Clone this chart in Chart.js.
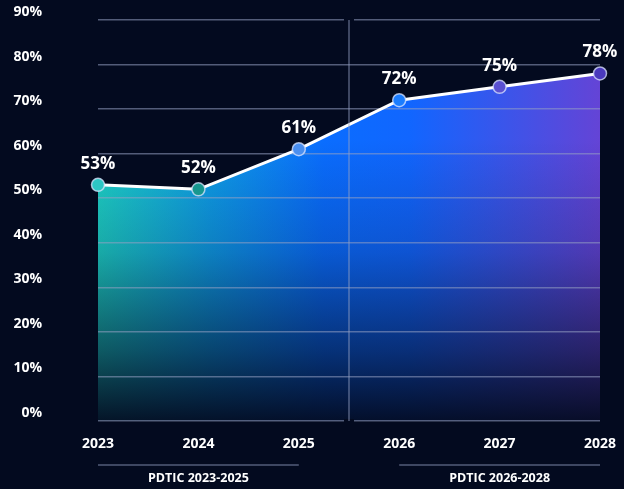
<!DOCTYPE html>
<html>
<head>
<meta charset="utf-8">
<script src="https://cdn.jsdelivr.net/npm/chart.js@4/dist/chart.umd.min.js"></script>
<style>
  html, body { margin: 0; padding: 0; background: #030a1f; }
  #wrap { width: 624px; height: 489px; position: relative; }
</style>
</head>
<body>
<div id="wrap"><canvas id="c" width="624" height="489"></canvas></div>
<script>
const categories = ['2023', '2024', '2025', '2026', '2027', '2028'];
const values = [53, 52, 61, 72, 75, 78];
const valueLabels = ['53%', '52%', '61%', '72%', '75%', '78%'];
const yTicks = [0, 10, 20, 30, 40, 50, 60, 70, 80, 90];
const groups = [
  { label: 'PDTIC 2023-2025', from: 0, to: 2 },
  { label: 'PDTIC 2026-2028', from: 3, to: 5 }
];
const pointColors = ['#2cc6c4', '#17978f', '#4a8ff0', '#1b7dff', '#5a50d2', '#4a3abd'];

const BG = '#030a1f';
const GRID = 'rgba(150,160,195,0.55)';
const FONT = "'Open Sans', 'DejaVu Sans', sans-serif";

function hGradient(ctx, area) {
  const g = ctx.createLinearGradient(area.left, 0, area.right, 0);
  g.addColorStop(0, '#1ed2c8');
  g.addColorStop(0.22, '#0f9ee8');
  g.addColorStop(0.45, '#0a6dff');
  g.addColorStop(0.62, '#1166ff');
  g.addColorStop(1, '#6444d6');
  return g;
}
function vGradient(ctx, area) {
  const g = ctx.createLinearGradient(0, area.top + 120, 0, area.bottom);
  g.addColorStop(0, 'rgba(3,10,31,0)');
  g.addColorStop(0.4, 'rgba(3,10,31,0.2)');
  g.addColorStop(0.75, 'rgba(3,10,31,0.6)');
  g.addColorStop(1, 'rgba(3,10,31,0.95)');
  return g;
}

const decor = {
  id: 'decor',
  afterDraw(chart) {
    const ctx = chart.ctx;
    const x = chart.scales.x, y = chart.scales.y;
    const area = chart.chartArea;
    const sx = x.getPixelForValue(2.5);
    ctx.save();
    ctx.fillStyle = BG;
    ctx.fillRect(sx - 5, area.top - 2, 10, 4);
    ctx.fillRect(sx - 5, area.bottom - 2, 10, 4);
    ctx.strokeStyle = GRID;
    ctx.lineWidth = 1.5;
    ctx.beginPath();
    ctx.moveTo(sx, area.top);
    ctx.lineTo(sx, area.bottom);
    ctx.stroke();
    groups.forEach(g => {
      const x1 = x.getPixelForValue(g.from), x2 = x.getPixelForValue(g.to);
      ctx.strokeStyle = GRID;
      ctx.lineWidth = 1.5;
      ctx.beginPath();
      ctx.moveTo(x1, area.bottom + 44);
      ctx.lineTo(x2, area.bottom + 44);
      ctx.stroke();
      ctx.fillStyle = '#ffffff';
      ctx.font = "bold 12.5px " + FONT;
      ctx.textAlign = 'center';
      ctx.textBaseline = 'middle';
      ctx.fillText(g.label, (x1 + x2) / 2, area.bottom + 57);
    });
    const meta = chart.getDatasetMeta(1);
    ctx.font = "bold 17px " + FONT;
    ctx.fillStyle = '#ffffff';
    ctx.textAlign = 'center';
    ctx.textBaseline = 'middle';
    meta.data.forEach((pt, i) => {
      ctx.fillText(valueLabels[i], pt.x, pt.y - 21);
    });
    ctx.restore();
  }
};

new Chart(document.getElementById('c'), {
  type: 'line',
  data: {
    labels: categories,
    datasets: [
      {
        data: values,
        order: 0,
        borderWidth: 0,
        pointRadius: 0,
        pointHoverRadius: 0,
        fill: 'origin',
        backgroundColor: (c) => c.chart.chartArea ? vGradient(c.chart.ctx, c.chart.chartArea) : 'transparent',
        borderColor: 'transparent'
      },
      {
        data: values,
        order: 1,
        borderColor: '#ffffff',
        borderWidth: 3,
        tension: 0,
        fill: 'origin',
        backgroundColor: (c) => c.chart.chartArea ? hGradient(c.chart.ctx, c.chart.chartArea) : '#0a6dff',
        pointRadius: 6.5,
        pointBorderWidth: 1.5,
        pointBorderColor: 'rgba(220,230,255,0.75)',
        pointBackgroundColor: pointColors
      }
    ]
  },
  options: {
    responsive: false,
    animation: false,
    devicePixelRatio: 1,
    layout: { padding: { top: 20, right: 24, left: 0, bottom: 0 } },
    plugins: {
      legend: { display: false },
      tooltip: { enabled: false },
      filler: { drawTime: 'beforeDraw' }
    },
    scales: {
      x: {
        offset: false,
        grid: { display: false, drawTicks: false },
        border: { display: false },
        ticks: {
          color: '#ffffff',
          font: { family: FONT, size: 14, weight: 'bold' },
          padding: 15,
          maxRotation: 0
        },
        afterFit(s) { s.height = 68; s.paddingLeft = 0; s.paddingRight = 0; }
      },
      y: {
        min: 0,
        max: 90,
        afterBuildTicks(s) { s.ticks = yTicks.map(v => ({ value: v })); },
        grid: { color: GRID, lineWidth: 1.5, drawTicks: false },
        border: { display: false },
        ticks: {
          color: '#ffffff',
          font: { family: FONT, size: 14, weight: 'bold' },
          padding: 56,
          labelOffset: -8,
          callback: (v) => v + '%'
        },
        afterFit(s) { s.width = 98; s.paddingTop = 0; s.paddingBottom = 0; }
      }
    }
  },
  plugins: [decor]
});
</script>
</body>
</html>
